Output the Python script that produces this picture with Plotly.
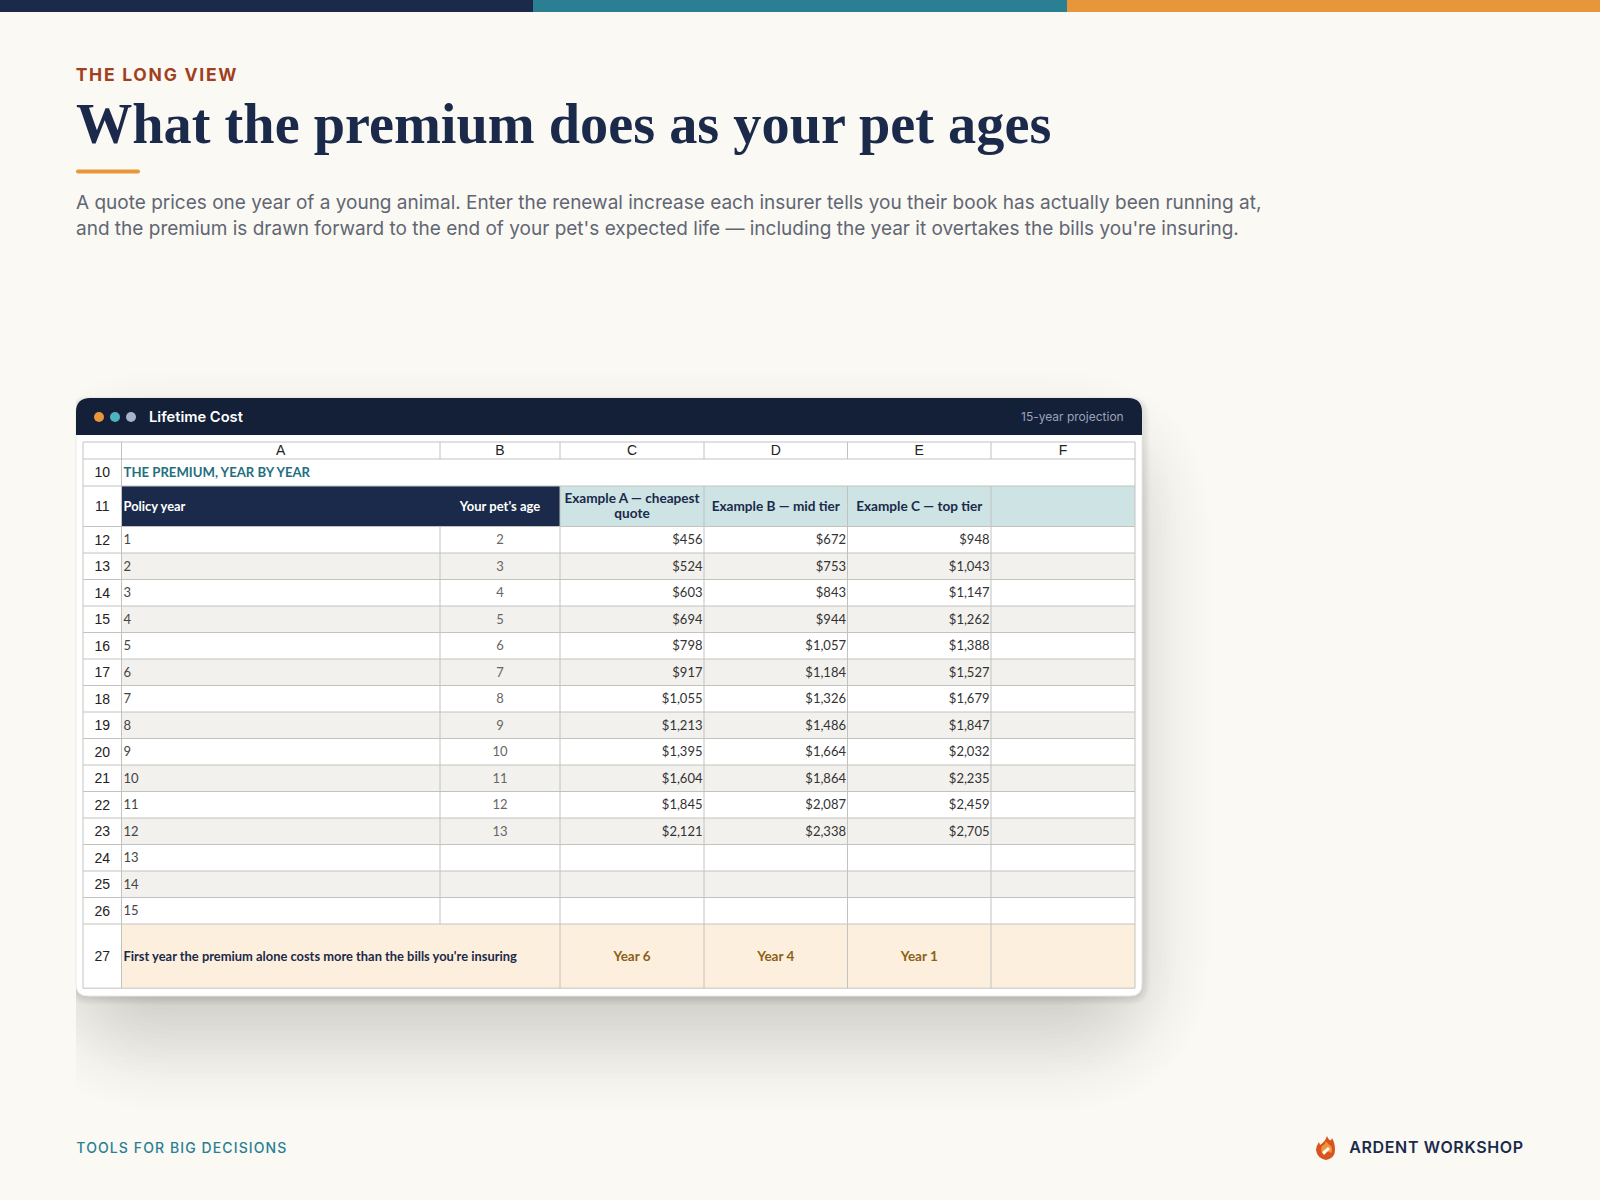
import math

import plotly.graph_objects as go

# --- spreadsheet content ---
column_letters = ["A", "B", "C", "D", "E", "F"]
row_numbers = list(range(10, 28))
section_title = "THE PREMIUM, YEAR BY YEAR"
header_left = ["Policy year", "Your pet's age"]
header_a = ["Example A — cheapest", "quote"]
header_others = ["Example B — mid tier", "Example C — top tier"]
policy_years = list(range(1, 16))
pet_ages = [2, 3, 4, 5, 6, 7, 8, 9, 10, 11, 12, 13]
example_a = [456, 524, 603, 694, 798, 917, 1055, 1213, 1395, 1604, 1845, 2121]
example_b = [672, 753, 843, 944, 1057, 1184, 1326, 1486, 1664, 1864, 2087, 2338]
example_c = [948, 1043, 1147, 1262, 1388, 1527, 1679, 1847, 2032, 2235, 2459, 2705]
overtake_label = "First year the premium alone costs more than the bills you're insuring"
overtake_years = ["Year 6", "Year 4", "Year 1"]

# --- grid geometry, page pixels ---
col_edges = [83, 121.5, 440, 560, 704, 847.5, 991, 1135]
row_heights = [17, 27, 40.5] + [26.5] * 15 + [64.2]
row_edges = [442]
for h in row_heights:
    row_edges.append(row_edges[-1] + h)

NAVY = "#1B2A4A"
BAR = "#141F38"
TEAL = "#2A7F93"
ORANGE = "#E8963A"
BG = "#FAF9F4"
GRID = "#C2C2BF"
CELL = "Lato"
SANS = "Inter"
SHEET = "Liberation Sans"
NUDGE = 1.3  # Lato sits a little high in its row

col_mid = [(a + b) / 2 for a, b in zip(col_edges[:-1], col_edges[1:])]
row_mid = [(a + b) / 2 for a, b in zip(row_edges[:-1], row_edges[1:])]
body_mid = [y + NUDGE for y in row_mid[3:18]]

fig = go.Figure()

# cell fills: 0 white, 1 alt row, 2 navy, 3 pale teal, 4 peach
palette = ["#FFFFFF", "#F2F1ED", NAVY, "#CDE3E4", "#FDEFDD"]
fills = [[0] * 7, [0] * 7]
fills.append([0, 2, 2, 3, 3, 3, 3])
for i in range(15):
    fills.append([0] + [i % 2] * 6)
fills.append([0, 4, 4, 4, 4, 4, 4])
colorscale = []
for i, c in enumerate(palette):
    colorscale += [[i / len(palette), c], [(i + 1) / len(palette), c]]
fig.add_trace(go.Heatmap(x=col_edges, y=row_edges, z=fills, zmin=0, zmax=len(palette),
                         colorscale=colorscale, showscale=False, hoverinfo="skip"))

# grid lines
gx, gy = [], []
for y in row_edges:
    gx += [col_edges[0], col_edges[-1], None]
    gy += [y, y, None]
for i, x in enumerate(col_edges):
    if i == 2:
        # A/B divider only exists in the letter row and the year rows
        segments = [(row_edges[0], row_edges[1]), (row_edges[3], row_edges[18])]
    elif 3 <= i <= 6:
        segments = [(row_edges[0], row_edges[1]), (row_edges[2], row_edges[-1])]
    else:
        segments = [(row_edges[0], row_edges[-1])]
    for a, b in segments:
        gx += [x, x, None]
        gy += [a, b, None]
fig.add_trace(go.Scatter(x=gx, y=gy, mode="lines", line=dict(color=GRID, width=1),
                         hoverinfo="skip", showlegend=False))


def add_text(xs, ys, texts, pos, family, size, color, weight=400):
    fig.add_trace(go.Scatter(x=xs, y=ys, text=texts, mode="text", textposition=pos,
                             textfont=dict(family=family, size=size, color=color, weight=weight),
                             hoverinfo="skip", showlegend=False, cliponaxis=False))


money = lambda v: f"${v:,}"

# sheet chrome
add_text(col_mid[1:], [row_mid[0] + 1.2] * 6, column_letters, "middle center", SHEET, 14, "#222222")
add_text([col_mid[0]] * len(row_numbers), [y + 1.3 for y in row_mid[1:]], row_numbers,
         "middle center", SHEET, 14, "#222222")

# titles and header row
add_text([col_edges[1] + 2], [row_mid[1] + NUDGE], [section_title], "middle right", CELL, 13.15, "#1F6F7F", 700)
add_text([col_edges[1] + 2], [row_mid[2] + NUDGE], [header_left[0]], "middle right", CELL, 12.9, "#FFFFFF", 700)
add_text([col_mid[2]], [row_mid[2] + NUDGE], [header_left[1]], "middle center", CELL, 13, "#FFFFFF", 700)
add_text([col_mid[2 + 1]] * 2, [row_mid[2] - 6.6, row_mid[2] + 8.6], header_a, "middle center", CELL, 13.6, NAVY, 700)
add_text(col_mid[4:6], [row_mid[2] + NUDGE] * 2, header_others, "middle center", CELL, 13.6, NAVY, 700)

# year rows
add_text([col_edges[1] + 2] * 15, body_mid, policy_years, "middle right", CELL, 13, "#444444")
add_text([col_mid[2]] * len(pet_ages), body_mid, pet_ages, "middle center", CELL, 13, "#666666")
for c, series in enumerate([example_a, example_b, example_c]):
    add_text([col_edges[c + 4] - 1.5] * len(series), body_mid, [money(v) for v in series],
             "middle left", CELL, 13, "#333333")

# overtake row
add_text([col_edges[1] + 2], [row_mid[18] + NUDGE], [overtake_label], "middle right", CELL, 12.9, NAVY, 700)
add_text(col_mid[3:6], [row_mid[18] + NUDGE] * 3, overtake_years, "middle center", CELL, 13.5, "#8A6116", 700)

shapes = []

# top colour band
for x0, x1, c in [(0, 533, NAVY), (533, 1067, TEAL), (1067, 1600, ORANGE)]:
    shapes.append(dict(type="rect", x0=x0, x1=x1, y0=0, y1=12, fillcolor=c, line_width=0, layer="below"))

shapes.append(dict(type="path", path="M78 169.5 L138 169.5 Q140 169.5 140 171.5 Q140 173.5 138 173.5 L78 173.5 Q76 173.5 76 171.5 Q76 169.5 78 169.5 Z",
                   fillcolor=ORANGE, line_width=0, layer="below"))


def rounded(x0, y0, x1, y1, r, bottom=True):
    p = f"M{x0} {y0 + r} Q{x0} {y0} {x0 + r} {y0} L{x1 - r} {y0} Q{x1} {y0} {x1} {y0 + r} "
    if bottom:
        p += f"L{x1} {y1 - r} Q{x1} {y1} {x1 - r} {y1} L{x0 + r} {y1} Q{x0} {y1} {x0} {y1 - r} Z"
    else:
        p += f"L{x1} {y1} L{x0} {y1} Z"
    return p


# big soft shadow, layered with gaussian weights
n = 40
sigma = 40
spread = 96
weights = [math.exp(-(-spread + 2 * spread * (i + 0.5) / n) ** 2 / (2 * sigma ** 2)) for i in range(n)]
total = sum(weights)
for i in range(n):
    e = spread - 2 * spread * (i + 0.5) / n  # outermost first
    a = 0.20 * weights[i] / total
    shapes.append(dict(type="path", path=rounded(76 - e, 440 - e, 1141 + e, 1042 + e, max(2, e + spread)),
                       fillcolor=f"rgba(35,38,42,{a:.4f})", line_width=0, layer="below"))
# tight shadow
for d in range(8, 0, -1):
    shapes.append(dict(type="path", path=rounded(76 - d, 400 - d / 2, 1142 + d, 997 + d, 12 + d),
                       fillcolor="rgba(35,38,42,0.011)", line_width=0, layer="below"))
# the shadow stops dead at the card's left edge
shapes.append(dict(type="rect", x0=0, x1=76, y0=340, y1=1150, fillcolor=BG, line_width=0, layer="below"))

shapes.append(dict(type="path", path=rounded(76, 398, 1142, 996, 12), fillcolor="#FFFFFF",
                   line=dict(color="#E9E9E5", width=1), layer="below"))
shapes.append(dict(type="path", path=rounded(76, 398, 1142, 435, 14, bottom=False), fillcolor=BAR,
                   line_width=0, layer="below"))
for cx, c in [(99, ORANGE), (115, "#4FB3BF"), (131, "#A9B2C8")]:
    shapes.append(dict(type="circle", x0=cx - 5, x1=cx + 5, y0=412, y1=422, fillcolor=c, line_width=0, layer="below"))

# flame mark in the footer
shapes.append(dict(type="path",
                   path="M1327 1136 Q1329 1141 1331 1140 Q1332 1139 1332 1138 Q1335 1143 1335 1150 "
                        "Q1335 1158 1326 1160 Q1317 1158 1316 1150 Q1316 1146 1319 1142 L1320 1145 Q1325 1142 1327 1136 Z",
                   fillcolor="#D9531E", line_width=0, layer="below"))
shapes.append(dict(type="path",
                   path="M1326 1141 Q1328 1145 1331 1146 Q1333 1150 1331 1153 L1327 1151 L1323 1154 Q1320 1150 1322 1146 Q1325 1145 1326 1141 Z",
                   fillcolor="#F0963A", line_width=0, layer="below"))
shapes.append(dict(type="path", path="M1322 1152 L1328 1147 L1330 1149 L1324 1155 Z",
                   fillcolor=BG, line_width=0, layer="below"))


def note(x, y, text, family, size, color, weight=400, anchor="left"):
    return dict(x=x, y=y, xref="x", yref="y", text=text, showarrow=False, xanchor=anchor, yanchor="middle",
                font=dict(family=family, size=size, color=color, weight=weight), borderpad=0, borderwidth=0)


# letter-spaced labels grow both ways from their middle, so x carries half the extra width
annotations = [
    note(76 + 11.4, 74.5, "THE LONG VIEW", SANS, 17.5, "#A0401E", 700),
    note(76, 124, "What the premium does as your pet ages", "Liberation Serif", 56.3, NAVY, 700),
    note(76, 202, "A quote prices one year of a young animal. Enter the renewal increase each insurer tells you their book has actually been running at,",
         SANS, 19, "#626673"),
    note(76, 228, "and the premium is drawn forward to the end of your pet's expected life — including the year it overtakes the bills you're insuring.",
         SANS, 19, "#626673"),
    note(149, 417, "Lifetime Cost", SANS, 14.7, "#FFFFFF", 600),
    note(1124, 416.4, "15-year projection", SANS, 12, "#9AA3B8", 400, anchor="right"),
    note(76 + 12.6, 1147.5, "TOOLS FOR BIG DECISIONS", SANS, 14, TEAL, 500),
    note(1349 + 4.7, 1147, "ARDENT WORKSHOP", SANS, 16, NAVY, 600),
]

fig.update_layout(
    width=1600, height=1200, margin=dict(l=0, r=0, t=0, b=0),
    paper_bgcolor=BG, plot_bgcolor=BG, showlegend=False,
    xaxis=dict(range=[0, 1600], visible=False, fixedrange=True),
    yaxis=dict(range=[1200, 0], visible=False, fixedrange=True),
    shapes=shapes, annotations=annotations,
)

page_css = """
var s = document.createElement('style');
s.textContent = 'body{margin:0;background:%s}'
  + 'g.annotation[data-index="0"] text{letter-spacing:1.75px}'
  + 'g.annotation[data-index="6"] text{letter-spacing:1.1px}'
  + 'g.annotation[data-index="7"] text{letter-spacing:0.63px}';
document.head.appendChild(s);
""" % BG

fig.write_html("out.html", post_script=page_css, config=dict(displayModeBar=False))
